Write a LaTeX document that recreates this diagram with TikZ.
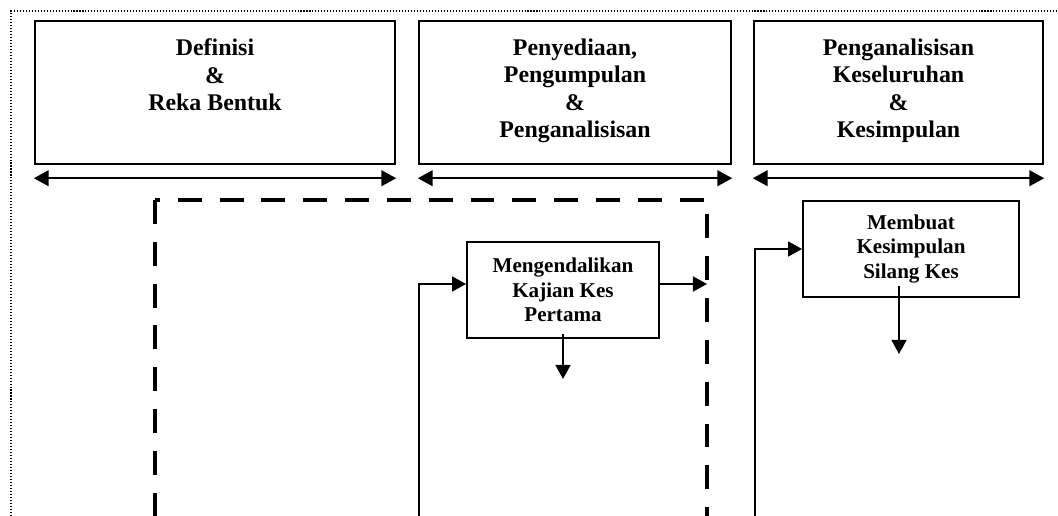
\documentclass[tikz,border=0pt]{standalone}
\usepackage{fontspec}
\setmainfont{Liberation Serif}
\usetikzlibrary{calc,positioning,arrows.meta}
\tikzset{>={Triangle[length=8pt,width=8.5pt]}}
\tikzset{
  phase/.style={draw,line width=1.4pt,minimum height=2.86cm,inner sep=0pt},
  phasetext/.style={align=center,inner sep=0pt,font=\fontsize{13.6}{15.7}\selectfont\bfseries},
  task/.style={draw,line width=1.1pt,minimum height=1.92cm,align=center,inner sep=0pt,font=\fontsize{12}{13.9}\selectfont\bfseries},
  span/.style={<->,line width=1.1pt,>={Triangle[length=8.5pt,width=9pt]}},
  flow/.style={->,line width=1.1pt},
  frame/.style={line width=2.8pt,dash pattern=on 13.6pt off 10.2pt}
}

\begin{document}
\begin{tikzpicture}[x=0.02cm,y=-0.02cm]
\useasboundingbox (0,0) rectangle (1058,516);
\draw[line width=0.6pt,dash pattern=on 0.6pt off 1.1pt] (11,516) -- (11,11) -- (1058,11);

\node[phase,minimum width=7.2cm] (def) at (215,92.5) {};
\node[phase,minimum width=6.24cm] (kumpul) at (575,92.5) {};
\node[phase,minimum width=5.78cm] (analisis) at (898.5,92.5) {};
\node[phasetext,below=0.37cm of def.north] (tdef) {Definisi\\\&\\Reka Bentuk};
\node[phasetext,below=0.37cm of kumpul.north] (tkumpul) {Penyediaan,\\Pengumpulan\\\&\\Penganalisisan};
\node[phasetext,below=0.37cm of analisis.north] (tanalisis) {Penganalisisan\\Keseluruhan\\\&\\Kesimpulan};
\draw[span] ($(def.south west)+(0,13)$) -- ($(def.south east)+(0,13)$);
\draw[span] ($(kumpul.south west)+(0,13)$) -- ($(kumpul.south east)+(0,13)$);
\draw[span] ($(analisis.south west)+(0,13)$) -- ($(analisis.south east)+(0,13)$);

\coordinate (fNW) at (155,200);
\coordinate (fNE) at (707,200);
\coordinate (fSW) at (155,516);
\coordinate (fSE) at (707,516);
\draw[frame] (fNW) -- (fSW);
\draw[frame,dash phase=10.8pt] (fNW) -- (fNE) -- (fSE);

\node[task,minimum width=3.84cm] (kes1) at (563,290) {Mengendalikan\\Kajian Kes\\Pertama};
\node[task,minimum width=4.32cm] (simpul) at (911,249) {Membuat\\Kesimpulan\\Silang Kes};

\coordinate (in1) at (419,516);
\coordinate (in2) at (755,516);
\draw[flow] (in1) |- ($(kes1.west)+(0,-6)$);
\draw[flow] ($(kes1.east)+(0,-6)$) coordinate (o1) -- (o1 -| fNE);
\draw[flow] ($(kes1.south)+(0,-5)$) -- ++(0,45);
\draw[flow] (in2) |- (simpul.west);
\draw[flow] ($(simpul.south)+(-12,-12)$) -- ++(0,68);
\end{tikzpicture}
\end{document}
